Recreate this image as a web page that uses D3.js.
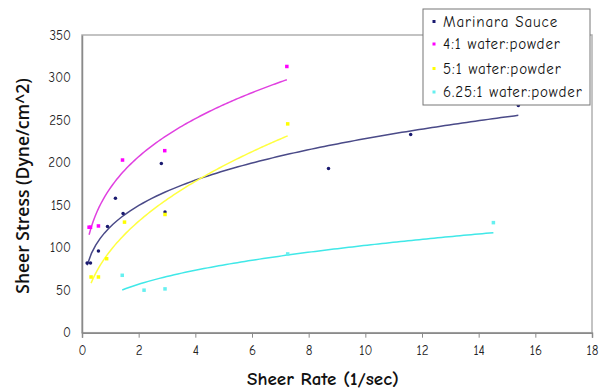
<!DOCTYPE html>
<html><head><meta charset="utf-8">
<script src="https://cdn.jsdelivr.net/npm/d3@7"></script>
<style>body{margin:0;background:#fff;}svg{display:block;}</style>
</head><body><svg id="c" width="603" height="390"></svg>
<script>
const xTicks = [0,2,4,6,8,10,12,14,16,18];
const yTicks = [0,50,100,150,200,250,300,350];
const seriesNames = ["Marinara Sauce","4:1 water:powder","5:1 water:powder","6.25:1 water:powder"];
const seriesColors = ["#1a1a70","#ff00ff","#ffff00","#66f0f0"];
const lineColors = ["#4a4a88","#e040e0","#ffff40","#40e8e8"];
const marinaraX = [0.18,0.3,0.58,0.9,1.18,1.45,2.8,2.93,8.7,11.6,15.4];
const marinaraY = [82,82,96,125,158,140,199,142,193,233,267];
const w41X = [0.25,0.3,0.58,1.43,2.92,7.23];
const w41Y = [124,124,125.5,203,214,313];
const w51X = [0.32,0.58,0.87,1.5,2.93,7.26];
const w51Y = [65.5,65.5,87,130,139,245.5];
const w625X = [1.42,2.19,2.93,7.26,14.52];
const w625Y = [67.5,50,51.5,92.6,129.4];

const seriesX = [marinaraX,w41X,w51X,w625X];
const seriesY = [marinaraY,w41Y,w51Y,w625Y];

const svg = d3.select("#c");
const L=82,R=592,T=35,B=332.7;
const x = d3.scaleLinear().domain([0,18]).range([L,R]);
const y = d3.scaleLinear().domain([0,350]).range([B,T]);
const font = "'Comic Sans MS','Comic Neue','DejaVu Sans',sans-serif";

svg.append("rect").attr("x",L).attr("y",T).attr("width",R-L).attr("height",B-T)
  .attr("fill","none").attr("stroke","#b0b0b0").attr("stroke-width",1.5);

const xa = svg.append("g").attr("transform",`translate(0,${B})`)
  .call(d3.axisBottom(x).tickValues(xTicks).tickSize(5).tickPadding(8).tickFormat(d3.format("d")));
xa.select(".domain").attr("stroke","#8a8a8a").attr("stroke-width",1.5);
xa.selectAll("line").attr("stroke","#8a8a8a");
xa.selectAll("text").attr("font-family",font).attr("font-size",13).attr("fill","#222");

const ya = svg.append("g").attr("transform",`translate(${L},0)`)
  .call(d3.axisLeft(y).tickValues(yTicks).tickSize(0).tickPadding(11));
ya.select(".domain").attr("stroke","#8a8a8a").attr("stroke-width",1.5);
ya.selectAll("text").attr("font-family",font).attr("font-size",13).attr("fill","#222");

function powerFit(xs,ys){
  const lx=xs.map(Math.log), ly=ys.map(Math.log);
  const mx=d3.mean(lx), my=d3.mean(ly);
  let sxy=0,sxx=0;
  lx.forEach((v,i)=>{sxy+=(v-mx)*(ly[i]-my);sxx+=(v-mx)*(v-mx);});
  const b=sxy/sxx, a=Math.exp(my-b*mx);
  return {a,b};
}
const line = d3.line().x(d=>x(d[0])).y(d=>y(d[1]));
seriesX.forEach((xs,i)=>{
  const f=powerFit(xs,seriesY[i]);
  const x0=d3.min(xs), x1=d3.max(xs);
  const pts=d3.range(0,101).map(k=>{const xv=x0+(x1-x0)*k/100;return [xv,f.a*Math.pow(xv,f.b)];});
  svg.append("path").datum(pts).attr("d",line).attr("fill","none")
    .attr("stroke",lineColors[i]).attr("stroke-width",1.5);
});

seriesX.forEach((xs,i)=>{
  svg.append("g").selectAll("rect").data(xs.map((v,k)=>[v,seriesY[i][k]])).join("rect")
    .attr("x",d=>x(d[0])-1.75).attr("y",d=>y(d[1])-1.75).attr("width",3.5).attr("height",3.5)
    .attr("rx",i===0?1.75:0)
    .attr("fill",seriesColors[i]);
});

const lg = svg.append("g");
lg.append("rect").attr("x",423).attr("y",9).attr("width",167).attr("height",96)
  .attr("fill","#fff").attr("stroke","#777").attr("stroke-width",1);
const rowY=[21.5,44,68.5,92];
seriesNames.forEach((n,i)=>{
  lg.append("rect").attr("x",432.5).attr("y",rowY[i]-1.5).attr("width",3).attr("height",3).attr("fill",seriesColors[i]);
  lg.append("text").attr("x",443).attr("y",rowY[i]).attr("dy","0.35em")
    .attr("font-family",font).attr("font-size",15).attr("letter-spacing",0.9).attr("fill","#111")
    .text(n);
});

svg.append("text").attr("x",323).attr("y",385).attr("text-anchor","middle")
  .attr("font-family",font).attr("font-weight","bold").attr("font-size",19).attr("fill","#111")
  .text("Sheer Rate (1/sec)");
svg.append("text").attr("transform","translate(29,186) rotate(-90)").attr("text-anchor","middle")
  .attr("font-family","'Open Sans','Liberation Sans',sans-serif").attr("font-weight","600").attr("font-size",17.5).attr("fill","#111")
  .text("Sheer Stress (Dyne/cm^2)");
</script></body></html>
